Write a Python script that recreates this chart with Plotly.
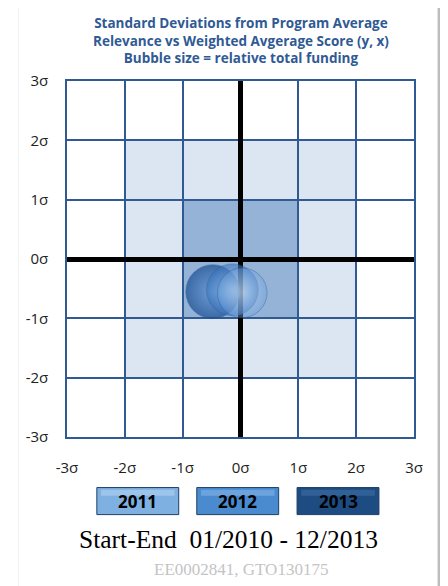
import plotly.graph_objects as go

years = ["2011", "2012", "2013"]
score_x = [-0.48, -0.14, 0.03]
relevance_y = [-0.55, -0.52, -0.57]
funding = [1.0, 0.96, 0.92]
tick_vals = [-3, -2, -1, 0, 1, 2, 3]
tick_text = ["-3σ", "-2σ", "-1σ", "0σ", "1σ", "2σ", "3σ"]

bubble_edge = ["rgba(22,75,145,1)", "rgba(55,115,190,0.85)", "rgba(105,160,222,0.6)"]
bubble_center = ["rgba(95,150,212,1)", "rgba(160,200,240,0.85)", "rgba(222,236,252,0.65)"]
button_colors = ["#7fb0e2", "#4a8bd0", "#1d4c82"]
button_top = ["#a9cdf0", "#7aaee2", "#3a6aa0"]

fig = go.Figure()

for i in range(len(years)):
    fig.add_trace(go.Scatter(
        x=[score_x[i]], y=[relevance_y[i]], mode="markers",
        marker=dict(size=[funding[i] * 54], sizemode="diameter",
                    color=bubble_edge[i],
                    gradient=dict(type="radial", color=bubble_center[i]),
                    line=dict(width=1, color="rgba(50,90,145,0.55)")),
        name=years[i], showlegend=False, hoverinfo="x+y+name"))

grid_col = "#2f5a94"
axis_common = dict(range=[-3, 3], tickvals=tick_vals, ticktext=tick_text,
                   showgrid=True, gridcolor=grid_col, gridwidth=1.5,
                   zeroline=True, zerolinecolor="black", zerolinewidth=5,
                   showline=True, linecolor=grid_col, linewidth=1.5, mirror=True,
                   ticks="", tickfont=dict(family="Open Sans", size=15, color="#222"),
                   fixedrange=True)

# page body has an 8px margin, so the figure is 8px smaller
fig.update_layout(
    width=440, height=578,
    margin=dict(l=59, r=34, t=73, b=149),
    paper_bgcolor="white", plot_bgcolor="white",
    xaxis=dict(**axis_common, ticklabelstandoff=16),
    yaxis=dict(**axis_common, ticklabelstandoff=14),
)

fig.add_annotation(
    x=0.5, y=1.194, xref="paper", yref="paper", xanchor="center", yanchor="top",
    text="<b>Standard Deviations from Program Average<br>Relevance vs Weighted Avgerage Score (y, x)<br>Bubble size = relative total funding</b>",
    showarrow=False, align="center",
    font=dict(family="Open Sans", size=13.5, color="#2f5a94"))

# shaded zones
fig.add_shape(type="rect", xref="x", yref="y", x0=-2, x1=2, y0=-2, y1=2,
              fillcolor="#dce6f2", line_width=0, layer="below")
fig.add_shape(type="rect", xref="x", yref="y", x0=-1, x1=1, y0=-1, y1=1,
              fillcolor="#95b3d7", line_width=0, layer="below")

# frame shadow at right and faint left edge
fig.add_shape(type="rect", xref="paper", yref="paper", x0=1.068, x1=1.079, y0=-0.5, y1=1.215,
              fillcolor="#bdbdbd", line_width=0)
fig.add_shape(type="rect", xref="paper", yref="paper", x0=1.079, x1=1.095, y0=-0.5, y1=1.215,
              fillcolor="#dcdcdc", line_width=0)
fig.add_shape(type="line", xref="paper", yref="paper", x0=-0.14, x1=-0.14, y0=-0.5, y1=1.215,
              line=dict(color="#f2f2f2", width=1))

# year buttons
btn_x = [0.086, 0.374, 0.663]
btn_w = 0.236
for i in range(len(years)):
    fig.add_shape(type="rect", xref="paper", yref="paper",
                  x0=btn_x[i], x1=btn_x[i] + btn_w, y0=-0.218, y1=-0.142,
                  fillcolor=button_colors[i], line=dict(color="#1e3f66", width=1))
    fig.add_shape(type="rect", xref="paper", yref="paper",
                  x0=btn_x[i] + 0.012, x1=btn_x[i] + btn_w - 0.012, y0=-0.165, y1=-0.148,
                  fillcolor=button_top[i], line_width=0, opacity=0.7)
    fig.add_annotation(x=btn_x[i] + btn_w / 2, y=-0.18, xref="paper", yref="paper",
                       xanchor="center", yanchor="middle",
                       text="<b>" + years[i] + "</b>", showarrow=False,
                       font=dict(family="Open Sans", size=17, color="black"))

fig.add_annotation(x=0.464, y=-0.288, xref="paper", yref="paper",
                   xanchor="center", yanchor="middle",
                   text="Start-End  01/2010 - 12/2013", showarrow=False,
                   font=dict(family="Liberation Serif", size=25.5, color="black"))
fig.add_annotation(x=0.5, y=-0.372, xref="paper", yref="paper",
                   xanchor="center", yanchor="middle",
                   text="EE0002841, GTO130175", showarrow=False,
                   font=dict(family="Liberation Serif", size=17, color="#c4c4c4"))

fig.write_html("out.html")
